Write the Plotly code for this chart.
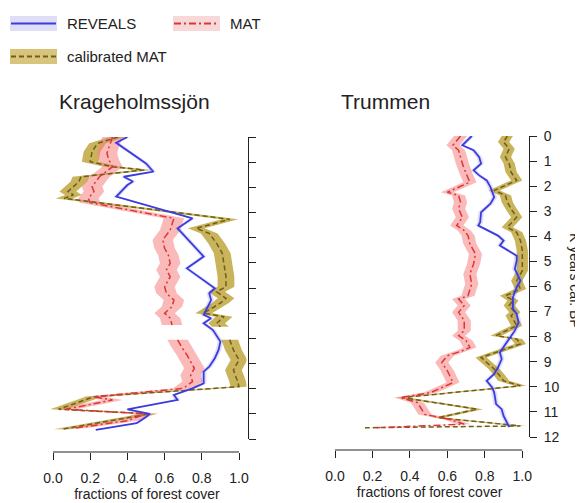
import plotly.graph_objects as go

# ---------------- data ----------------
N = None
# Krageholmssjön
K_REV_AGE = [0, 0.23, 1.05, 1.38, 1.58, 1.77, 1.91, 2.37, 3.23, 3.63, 4.75, 5.22, 6.01, 6.21,
             6.48, 6.81, 7.07, 7.2, 7.4, 7.67, 8.13, 8.46, 8.79, 9.13, 9.32, 9.79, 9.99, 10.25,
             10.45, 10.82, 11.0, 11.13, 11.37, 11.64]
K_REV_VAL = [0.40, 0.34, 0.50, 0.54, 0.38, 0.43, 0.40, 0.34, 0.75, 0.67, 0.81, 0.72, 0.87, 0.84,
             0.85, 0.83, 0.81, 0.85, 0.81, 0.86, 0.90, 0.89, 0.87, 0.84, 0.81, 0.81, 0.75, 0.65,
             0.67, 0.40, 0.52, 0.50, 0.45, 0.23]
K_MAT_AGE = [0, 0.38, 0.65, 0.91, 1.18, 1.58, 1.77, 1.97, 2.17, 2.44, 2.61, 3.23, 3.7, 4.09,
             4.42, 4.69, 5.02, 5.28, 5.55, 5.95, 6.21, 6.48, 6.74, 7.0, 7.2, 7.47, N, 8.06, 8.33,
             8.66, 8.93, 9.19, 9.46, 9.72, 9.99, 10.32, 10.45, 10.82, 11.0, 11.27, 11.57]
K_MAT_VAL = [0.32, 0.30, 0.29, 0.30, 0.32, 0.25, 0.23, 0.21, 0.22, 0.19, 0.20, 0.65, 0.63, 0.59,
             0.60, 0.62, 0.63, 0.61, 0.63, 0.60, 0.61, 0.65, 0.64, 0.60, 0.63, 0.64, N, 0.67, 0.69,
             0.72, 0.74, 0.76, 0.74, 0.75, 0.70, 0.22, 0.32, 0.07, 0.50, 0.40, 0.12]
K_CAL_AGE = [0, 0.25, 0.58, 0.98, 1.18, 1.31, 1.58, 1.77, 1.97, 2.17, 2.3, 2.44, 3.27, 3.63,
             3.83, 4.23, 4.62, 5.15, 5.55, 5.95, 6.15, 6.41, 6.6, 7.0, 7.14, 7.4, 7.54, N, 8.06,
             8.46, 8.86, 9.26, 9.66, 9.92, 10.32, 10.82, 11.0, 11.61]
K_CAL_VAL = [0.35, 0.24, 0.21, 0.20, 0.32, 0.49, 0.15, 0.14, 0.11, 0.08, 0.11, 0.06, 0.95, 0.77,
             0.84, 0.88, 0.91, 0.92, 0.93, 0.93, 0.88, 0.93, 0.90, 0.81, 0.92, 0.88, 0.90, N, 0.95,
             0.97, 1.00, 0.97, 0.99, 1.00, 0.22, 0.03, 0.52, 0.05]
K_ERR = {"rev": 0.015, "mat": 0.055, "cal": 0.045}

# Trummen
T_REV_AGE = [0, 0.37, 0.57, 0.84, 1.1, 1.37, 1.57, 1.77, 2.04, 2.44, 2.7, 3.04, 3.44, 3.57,
             3.97, 4.17, 4.37, 4.77, 4.97, 5.3, 5.77, 6.03, 6.43, 6.89, 7.09, 7.43, 7.76, 8.09,
             8.43, 8.63, 8.89, 9.23, 9.49, 9.76, 10.03, 10.23, 10.69, 10.89, 11.16, 11.6]
T_REV_VAL = [0.73, 0.68, 0.74, 0.77, 0.78, 0.74, 0.77, 0.81, 0.83, 0.85, 0.83, 0.78, 0.775, 0.765,
             0.87, 0.90, 0.88, 0.97, 0.97, 0.96, 0.99, 0.97, 0.95, 0.95, 0.97, 0.98, 0.96, 0.93,
             0.90, 0.88, 0.89, 0.87, 0.85, 0.81, 0.84, 0.85, 0.86, 0.89, 0.90, 0.93]
T_MAT_AGE = [0, 0.37, 0.57, 1.1, 1.5, 1.84, 2.24, 2.37, 2.64, 2.9, 3.24, 3.57, 3.77, 3.97,
             4.3, 4.7, 5.1, 5.5, 5.9, 6.37, 6.5, 6.76, 7.03, 7.36, 7.76, 7.96, 8.16, 8.43, 8.56,
             8.76, 9.03, 9.36, 9.83, 10.23, 10.43, 10.63, 11.1, 11.29, 11.49, 11.63]
T_MAT_VAL = [0.67, 0.63, 0.66, 0.68, 0.70, 0.72, 0.60, 0.66, 0.67, 0.66, 0.68, 0.65, 0.69, 0.71,
             0.72, 0.75, 0.74, 0.72, 0.73, 0.71, 0.66, 0.69, 0.66, 0.69, 0.69, 0.66, 0.70, 0.72,
             0.68, 0.60, 0.57, 0.60, 0.63, 0.51, 0.35, 0.44, 0.48, 0.61, 0.69, 0.22]
T_CAL_AGE = [0, 0.24, 0.51, 0.84, 1.1, 1.44, 1.77, 2.17, 2.37, 2.64, 2.9, 3.24, 3.64, 3.84,
             4.17, 4.57, 4.97, 5.37, 5.77, 6.1, 6.37, 6.56, 6.76, 7.03, 7.16, 7.56, 7.96, 8.09,
             8.29, 8.83, 9.03, 9.29, 9.56, 9.76, 9.96, 10.43, 10.89, 11.23, 11.49, 11.56, 11.63]
T_CAL_VAL = [0.92, 0.90, 0.93, 0.91, 0.93, 0.94, 0.97, 0.85, 0.91, 0.92, 0.94, 0.97, 0.92, 0.97,
             0.99, 1.00, 1.00, 1.00, 0.97, 0.99, 0.91, 0.95, 0.93, 0.96, 0.94, 0.97, 0.86, 0.97,
             0.99, 0.78, 0.81, 0.85, 0.88, 0.90, 0.99, 0.36, 0.76, 0.55, 0.90, 0.99, 0.16]
T_ERR = {"rev": 0.015, "mat": 0.035, "cal": 0.03}

SITES = ["Krageholmssjön", "Trummen"]
X_TICKS = [0, 0.2, 0.4, 0.6, 0.8, 1.0]
X_TICK_TEXT = ["0.0", "0.2", "0.4", "0.6", "0.8", "1.0"]
Y_TICKS = list(range(0, 13))
SERIES_NAMES = {"rev": "REVEALS", "mat": "MAT", "cal": "calibrated MAT"}

# ---------------- styling ----------------
OFF = 8                      # page body margin
W, H = 583 - OFF, 503 - OFF  # figure size
FONT = "Liberation Sans, Arial, Helvetica, sans-serif"
TXT = "#222222"
STYLE = {
    "rev": dict(line="#3b3be0", dash="solid", width=1.8, band="rgba(110,110,230,0.22)",
                legbox="#dedef6"),
    "mat": dict(line="#e03434", dash="7px,3px,2px,3px", width=1.5, band="rgba(246,130,130,0.55)",
                legbox="#f6d8d8"),
    "cal": dict(line="#6e5e1c", dash="5px,3px", width=1.5, band="rgba(192,166,62,0.85)",
                legbox="#d8c47a"),
}


def pxx(x):
    return (x - OFF) / W


def pyy(y):
    return 1 - (y - OFF) / H


def segments(ages, vals):
    segs, cur = [], []
    for a, v in zip(ages, vals):
        if a is None or v is None:
            if cur:
                segs.append(cur)
                cur = []
        else:
            cur.append((a, v))
    if cur:
        segs.append(cur)
    return segs


def band_xy(ages, vals, err):
    bx, by = [], []
    for seg in segments(ages, vals):
        a = [p[0] for p in seg]
        v = [p[1] for p in seg]
        bx += [x - err for x in v] + [x + err for x in v[::-1]] + [None]
        by += a + a[::-1] + [None]
    return bx, by


panels = [
    dict(data={"rev": (K_REV_AGE, K_REV_VAL), "mat": (K_MAT_AGE, K_MAT_VAL),
               "cal": (K_CAL_AGE, K_CAL_VAL)}, err=K_ERR,
         x0=53, xs=186, ytop=137, ybot=439, yaxis_px=248, xaxis_py=452, labels=False),
    dict(data={"rev": (T_REV_AGE, T_REV_VAL), "mat": (T_MAT_AGE, T_MAT_VAL),
               "cal": (T_CAL_AGE, T_CAL_VAL)}, err=T_ERR,
         x0=335, xs=187.3, ytop=136, ybot=437, yaxis_px=529, xaxis_py=450, labels=True),
]

fig = go.Figure()
layout = dict(width=W, height=H, margin=dict(l=0, r=0, t=0, b=0, pad=0, autoexpand=False),
              autosize=False,
              paper_bgcolor="white", plot_bgcolor="rgba(0,0,0,0)", showlegend=False,
              font=dict(family=FONT, color=TXT, size=14))
shapes, annotations = [], []

XR = [-0.03, 1.04]
for i, p in enumerate(panels):
    xa = "x" if i == 0 else "x2"
    ya = "y" if i == 0 else "y2"
    for key in ["cal", "mat", "rev"]:
        ages, vals = p["data"][key]
        bx, by = band_xy(ages, vals, p["err"][key])
        fig.add_trace(go.Scatter(x=bx, y=by, mode="lines", fill="toself",
                                 fillcolor=STYLE[key]["band"], line=dict(width=0),
                                 hoverinfo="skip", xaxis=xa, yaxis=ya))
    for key in ["cal", "mat", "rev"]:
        ages, vals = p["data"][key]
        st = STYLE[key]
        fig.add_trace(go.Scatter(x=vals, y=ages, mode="lines", name=SERIES_NAMES[key],
                                 line=dict(color=st["line"], width=st["width"], dash=st["dash"]),
                                 xaxis=xa, yaxis=ya))
    d0 = pxx(p["x0"] + XR[0] * p["xs"])
    d1 = pxx(p["x0"] + XR[1] * p["xs"])
    xkey = "xaxis" if i == 0 else "xaxis2"
    ykey = "yaxis" if i == 0 else "yaxis2"
    layout[xkey] = dict(domain=[d0, d1], range=XR, anchor="free", position=pyy(p["xaxis_py"]),
                        automargin=False,
                        showline=False, showgrid=False, zeroline=False, ticks="outside",
                        ticklen=7, tickwidth=1, tickcolor=TXT, tickvals=X_TICKS,
                        ticktext=X_TICK_TEXT, tickfont=dict(size=14, color=TXT),
                        ticklabelstandoff=6,
                        title=dict(text="fractions of forest cover", font=dict(size=14),
                                   standoff=4))
    layout[ykey] = dict(domain=[pyy(p["ybot"]), pyy(p["ytop"])], range=[12, 0], anchor="free",
                        automargin=False,
                        position=pxx(p["yaxis_px"]), side="right", showline=True,
                        linecolor=TXT, linewidth=1, showgrid=False, zeroline=False,
                        ticks="outside", ticklen=7, tickwidth=1, tickcolor=TXT,
                        tickvals=Y_TICKS, showticklabels=p["labels"],
                        ticklabelstandoff=4,
                        tickfont=dict(size=14, color=TXT))
    shapes.append(dict(type="line", xref=xa, yref="paper", x0=0, x1=1,
                       y0=pyy(p["xaxis_py"]), y1=pyy(p["xaxis_py"]),
                       line=dict(color=TXT, width=1)))
    annotations.append(dict(text=SITES[i], xref="paper", yref="paper",
                            x=pxx(p["x0"] + 4), y=pyy(101), xanchor="left", yanchor="middle",
                            showarrow=False, font=dict(size=21, color=TXT)))

annotations.append(dict(text="K years cal. BP", xref="paper", yref="paper", x=pxx(575),
                        y=pyy(281), textangle=90, showarrow=False, xanchor="center",
                        yanchor="middle", font=dict(size=14, color=TXT)))

# legend (manual)
legend_items = [("rev", 10, 16), ("mat", 173, 16), ("cal", 10, 49)]
for key, lx, ly in legend_items:
    st = STYLE[key]
    shapes.append(dict(type="rect", xref="paper", yref="paper", x0=pxx(lx), x1=pxx(lx + 47),
                       y0=pyy(ly + 15), y1=pyy(ly), fillcolor=st["legbox"],
                       line=dict(width=0)))
    shapes.append(dict(type="line", xref="paper", yref="paper", x0=pxx(lx + 1), x1=pxx(lx + 46),
                       y0=pyy(ly + 7.5), y1=pyy(ly + 7.5),
                       line=dict(color=st["line"], width=st["width"] + 0.4,
                                 dash="solid" if key == "rev" else st["dash"])))
    annotations.append(dict(text=SERIES_NAMES[key], xref="paper", yref="paper",
                            x=pxx(lx + 55), y=pyy(ly + 7.5), xanchor="left", yanchor="middle",
                            showarrow=False, font=dict(size=15, color=TXT)))

layout["shapes"] = shapes
layout["annotations"] = annotations
fig.update_layout(**layout)
fig.write_html("out.html")
